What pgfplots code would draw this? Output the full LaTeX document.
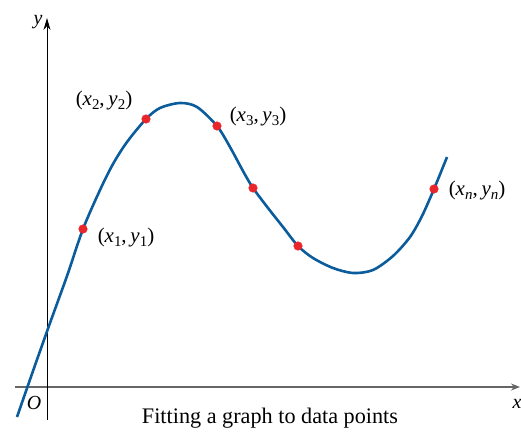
\documentclass[border=0pt]{standalone}
\usepackage{pgfplots}
\pgfplotsset{compat=1.18}
\usepackage{fontspec}
\setmainfont{Liberation Serif}
\usetikzlibrary{arrows.meta}
\definecolor{curveblue}{HTML}{0A5C9C}
\definecolor{dotred}{HTML}{E8262C}
\definecolor{axisgray}{HTML}{666666}
% point label (x_i, y_i) with lowered, small subscripts
\newcommand\sub[1]{\raisebox{-0.45ex}{\fontsize{15}{15}\selectfont #1}}
\newcommand\pnt[1]{(\textit{x}\sub{#1},\hspace{0.18em}\textit{y}\sub{#1})}
\begin{document}
\begin{tikzpicture}
\begin{axis}[
  x=1bp, y=1bp,
  xmin=-32, xmax=473, ymin=-33, ymax=369,
  axis x line=none, axis y line=none,
  ticks=none,
  clip=false,
]
% coordinate axes
\draw[axisgray, line width=1.4bp, -{Stealth[length=9bp,width=7bp]}]
  (axis cs:-32,0) -- (axis cs:473,0);
\draw[black, line width=0.9bp, -{Stealth[length=12bp,width=7bp]}]
  (axis cs:0,-33) -- (axis cs:0,369);
% fitted curve
\addplot[curveblue, line width=2.6bp, smooth, tension=0.5] coordinates {
  (-30,-30) (-14,16) (3,64) (20,111) (36,158) (53,197) (66,223) (80,245)
  (99,268) (113,279) (133,284) (150,280) (170,261) (183,240) (196,216)
  (206,199) (221,179) (236,160) (251,141) (266,129) (286,119) (306,114)
  (326,117) (346,131) (363,150) (375,171) (387,198) (400,230)
};
% data points
\addplot[only marks, mark=*, mark size=4.3bp, dotred, mark options={draw=dotred, fill=dotred}] coordinates {
  (36,158) (99,268) (170,261) (206,199) (251,141) (387,198)
};
\node[font=\fontsize{21}{22}\selectfont] at (axis cs:79,150) {\pnt{1}};
\node[font=\fontsize{21}{22}\selectfont] at (axis cs:57,287) {\pnt{2}};
\node[font=\fontsize{21}{22}\selectfont] at (axis cs:211,271) {\pnt{3}};
\node[font=\fontsize{21}{22}\selectfont] at (axis cs:430,197) {\pnt{\textit{n}}};
\node[font=\fontsize{20}{24}\selectfont\itshape] at (axis cs:-9,365) {y};
\node[font=\fontsize{20}{24}\selectfont\itshape] at (axis cs:470,-17) {x};
\node[font=\fontsize{20}{24}\selectfont\itshape] at (axis cs:-13,-16) {O};
\node[font=\fontsize{22.3}{26}\selectfont] at (axis cs:223,-31) {Fitting a graph to data points};
\coordinate (bl) at (axis cs:-47,-44);
\coordinate (tr) at (axis cs:474,387);
\end{axis}
\pgfresetboundingbox
\path[use as bounding box] (bl) rectangle (tr);
\end{tikzpicture}
\end{document}
